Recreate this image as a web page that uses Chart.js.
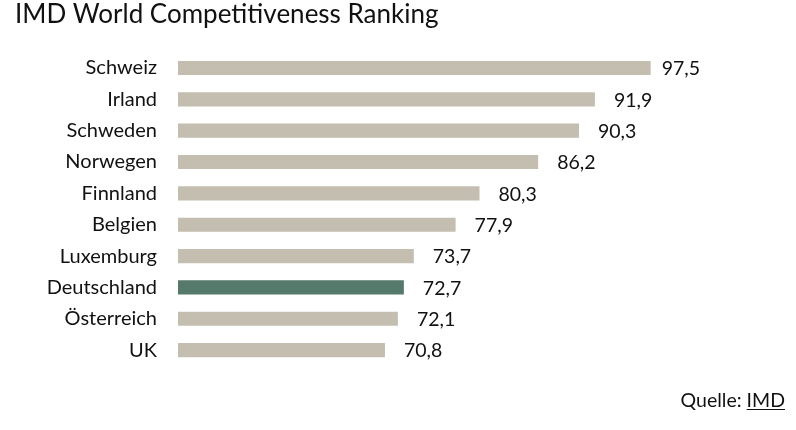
<!DOCTYPE html>
<html><head><meta charset="utf-8">
<script src="https://cdn.jsdelivr.net/npm/chart.js@4.4.0/dist/chart.umd.min.js"></script>
<style>html,body{margin:0;padding:0;background:#fff}#wrap{width:796px;height:430px;position:relative}</style>
</head><body><div id="wrap"><canvas id="c" width="796" height="430"></canvas></div>
<script>
const categories = ["Schweiz","Irland","Schweden","Norwegen","Finnland","Belgien","Luxemburg","Deutschland","Österreich","UK"];
const scores = [97.5,91.9,90.3,86.2,80.3,77.9,73.7,72.7,72.1,70.8];
const highlight = "Deutschland";
const titleText = "IMD World Competitiveness Ranking";
const sourcePrefix = "Quelle: ";
const sourceName = "IMD";

const FONT = "Lato";
const TXT = "#111111";
const colors = categories.map(c => c === highlight ? "#557a6b" : "#c4beb1");

const decor = {
  id: "decor",
  afterDatasetsDraw(chart) {
    const ctx = chart.ctx;
    const meta = chart.getDatasetMeta(0);
    const area = chart.chartArea;
    ctx.save();
    ctx.fillStyle = TXT;
    ctx.font = "19.5px " + FONT;
    ctx.textBaseline = "middle";
    ctx.textAlign = "left";
    meta.data.forEach((bar, i) => {
      const s = scores[i].toFixed(1).replace(".", ",");
      const w = ctx.measureText(s).width;
      let x = bar.x + 19;
      const maxRight = area.right + 24.5;
      if (x + w > maxRight) x = maxRight - w;
      ctx.fillText(s, x, bar.y + 1);
    });
    // title
    ctx.font = "26px " + FONT;
    ctx.textBaseline = "alphabetic";
    ctx.fillText(titleText, 15, 23);
    // source
    ctx.font = "19.5px " + FONT;
    ctx.textAlign = "right";
    const right = 785;
    const wName = ctx.measureText(sourceName).width;
    ctx.fillText(sourceName, right, 407);
    ctx.fillText(sourcePrefix, right - wName, 407);
    ctx.fillRect(right - wName, 409, wName, 1);
    ctx.restore();
  }
};

new Chart(document.getElementById("c"), {
  type: "bar",
  data: {
    labels: categories,
    datasets: [{ data: scores, backgroundColor: colors, barPercentage: 0.9, categoryPercentage: 0.5 }]
  },
  options: {
    indexAxis: "y",
    responsive: false,
    animation: false,
    events: [],
    layout: { padding: { left: 0, right: 120.5, top: 52.3, bottom: 64.2 } },
    plugins: { legend: { display: false }, title: { display: false }, tooltip: { enabled: false } },
    scales: {
      x: { min: 50, max: 100, display: false },
      y: {
        grid: { display: false, drawTicks: false },
        border: { display: false },
        ticks: { color: TXT, font: { family: FONT, size: 20 }, padding: 21 },
        afterFit(scale) { scale.width = 178; }
      }
    }
  },
  plugins: [decor]
});
</script></body></html>
